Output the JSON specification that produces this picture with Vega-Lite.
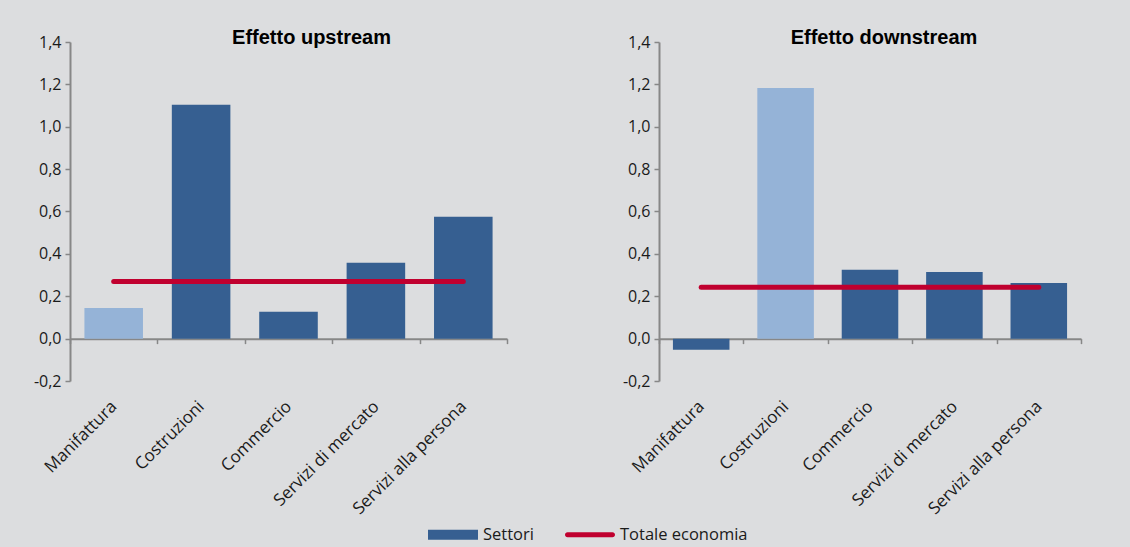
{
  "$schema": "https://vega.github.io/schema/vega-lite/v6.json",
  "background": "#dcdddf",
  "padding": {"left": 33, "top": 28, "right": 48, "bottom": 8},
  "datasets": {
    "up": [
      {"settore": "Manifattura", "valore": 0.145, "gruppo": "Evidenza", "totale": 0.27},
      {"settore": "Costruzioni", "valore": 1.104, "gruppo": "Settori", "totale": 0.27},
      {"settore": "Commercio", "valore": 0.127, "gruppo": "Settori", "totale": 0.27},
      {"settore": "Servizi di mercato", "valore": 0.358, "gruppo": "Settori", "totale": 0.27},
      {"settore": "Servizi alla persona", "valore": 0.575, "gruppo": "Settori", "totale": 0.27}
    ],
    "down": [
      {"settore": "Manifattura", "valore": -0.052, "gruppo": "Settori", "totale": 0.242},
      {"settore": "Costruzioni", "valore": 1.183, "gruppo": "Evidenza", "totale": 0.242},
      {"settore": "Commercio", "valore": 0.325, "gruppo": "Settori", "totale": 0.242},
      {"settore": "Servizi di mercato", "valore": 0.314, "gruppo": "Settori", "totale": 0.242},
      {"settore": "Servizi alla persona", "valore": 0.262, "gruppo": "Settori", "totale": 0.242}
    ]
  },
  "spacing": 114,
  "resolve": {"scale": {"color": "shared"}},
  "hconcat": [
    {
      "width": 437,
      "height": 339,
      "title": {"text": "Effetto upstream", "dx": 23},
      "data": {"name": "up"},
      "encoding": {
        "x": {"field": "settore", "type": "nominal", "sort": null,
          "scale": {"paddingInner": 0, "paddingOuter": 0},
          "axis": {"title": null, "offset": -42.375, "tickBand": "extent", "labelAngle": -45, "labelAlign": "right", "labelBaseline": "middle", "labelPadding": 60, "labelFontSize": 17}}
      },
      "layer": [
        {
          "mark": {"type": "bar", "width": {"band": 0.67}},
          "encoding": {
            "y": {"field": "valore", "type": "quantitative", "scale": {"domain": [-0.2, 1.4], "nice": false},
              "axis": {"title": null, "values": [-0.2, 0, 0.2, 0.4, 0.6, 0.8, 1.0, 1.2, 1.4], "labelExpr": "replace(replace(format(datum.value, '.1f'), '.', ','), '−', '-')"}},
            "color": {"field": "gruppo", "type": "nominal",
              "scale": {"domain": ["Settori", "Totale economia", "Evidenza"], "range": ["#365f91", "#c0002f", "#95b3d7"]},
              "legend": {"title": null, "orient": "none", "legendX": 358, "legendY": 467.5, "direction": "horizontal", "values": ["Settori", "Totale economia"],
                "symbolSize": 2500, "symbolStrokeWidth": 0, "columnPadding": 31, "labelOffset": 5,
                "encode": {"symbols": {"update": {
                  "shape": {"signal": "datum.value === 'Settori' ? 'M-1,-0.2H1V0.2H-1Z' : 'M-1,-0.2L-1,-0.2M-1,0.2L-1,0.2M-0.9,-0.1H0.9A0.1,0.1 0 0 1 0.9,0.1H-0.9A0.1,0.1 0 0 1 -0.9,-0.1Z'"},
                  "fill": {"signal": "scale('color', datum.value)"},
                  "stroke": {"value": "transparent"},
                  "opacity": {"value": 1},
                  "fillOpacity": {"value": 1}
                }}}}}
          }
        },
        {
          "mark": {"type": "line", "strokeWidth": 5, "strokeCap": "round"},
          "encoding": {
            "y": {"field": "totale", "type": "quantitative"},
            "color": {"datum": "Totale economia"}
          }
        }
      ]
    },
    {
      "width": 422,
      "height": 339,
      "title": {"text": "Effetto downstream", "dx": 14},
      "data": {"name": "down"},
      "encoding": {
        "x": {"field": "settore", "type": "nominal", "sort": null,
          "scale": {"paddingInner": 0, "paddingOuter": 0},
          "axis": {"title": null, "offset": -42.375, "tickBand": "extent", "labelAngle": -45, "labelAlign": "right", "labelBaseline": "middle", "labelPadding": 60, "labelFontSize": 17}}
      },
      "layer": [
        {
          "mark": {"type": "bar", "width": {"band": 0.67}},
          "encoding": {
            "y": {"field": "valore", "type": "quantitative", "scale": {"domain": [-0.2, 1.4], "nice": false},
              "axis": {"title": null, "values": [-0.2, 0, 0.2, 0.4, 0.6, 0.8, 1.0, 1.2, 1.4], "labelExpr": "replace(replace(format(datum.value, '.1f'), '.', ','), '−', '-')"}},
            "color": {"field": "gruppo", "type": "nominal"}
          }
        },
        {
          "mark": {"type": "line", "strokeWidth": 5, "strokeCap": "round"},
          "encoding": {
            "y": {"field": "totale", "type": "quantitative"},
            "color": {"datum": "Totale economia"}
          }
        }
      ]
    }
  ],
  "config": {
    "view": {"stroke": null},
    "axis": {"grid": false, "domainColor": "#878787", "domainWidth": 2, "tickColor": "#878787", "tickWidth": 1.5, "tickSize": 5,
      "labelFont": "Open Sans", "labelFontSize": 16, "labelColor": "#1a1a1a", "labelPadding": 4},
    "legend": {"labelFont": "Open Sans", "labelFontSize": 16.5, "labelColor": "#1a1a1a"},
    "title": {"font": "Liberation Sans", "fontSize": 20, "fontWeight": "bold", "color": "#000000", "offset": -14, "baseline": "alphabetic", "anchor": "middle"}
  }
}
